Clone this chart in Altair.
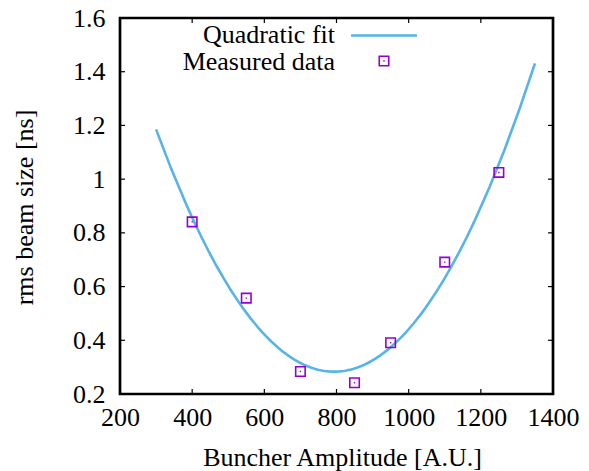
import altair as alt
import pandas as pd

# Data
amplitude = [400, 550, 700, 850, 950, 1100, 1250]
rms_size = [0.841, 0.557, 0.284, 0.242, 0.391, 0.691, 1.025]
fit_extent = [300, 1350]
x_ticks = [200, 400, 600, 800, 1000, 1200, 1400]
y_ticks = [0.2, 0.4, 0.6, 0.8, 1.0, 1.2, 1.4, 1.6]
legend_labels = ["Quadratic fit", "Measured data"]
x_title = "Buncher Amplitude [A.U.]"
y_title = "rms beam size [ns]"

W, H = 433, 376
FONT = "Liberation Serif, Times New Roman, serif"
FS = 26
FIT_COLOR = "#56b4e9"
PT_COLOR = "#9400d3"

df = pd.DataFrame({"amp": amplitude, "rms": rms_size})
xt = pd.DataFrame({"t": x_ticks})
yt = pd.DataFrame({"t": y_ticks})

xscale = alt.Scale(domain=[200, 1400], nice=False, zero=False)
yscale = alt.Scale(domain=[0.2, 1.6], nice=False, zero=False)

xaxis = alt.Axis(values=x_ticks, format="d", ticks=False, domain=False, grid=False,
                 labelFont=FONT, labelFontSize=FS, labelColor="black", labelPadding=10,
                 labelFlush=False, labelOverlap=False,
                 title=x_title, titleFont=FONT, titleFontSize=FS, titleFontWeight="normal",
                 titleColor="black", titleX=222, titleY=71, titleBaseline="alphabetic")
yaxis = alt.Axis(values=y_ticks, format="~g", ticks=False, domain=False, grid=False,
                 labelFont=FONT, labelFontSize=FS, labelColor="black", labelPadding=15,
                 labelFlush=False, labelOverlap=False,
                 title=y_title, titleFont=FONT, titleFontSize=FS, titleFontWeight="normal",
                 titleColor="black", titleX=-96, titleY=189, titleAngle=-90,
                 titleAlign="center", titleBaseline="middle")

base = alt.Chart(df)

fit = base.transform_regression(
    "amp", "rms", method="poly", order=2, extent=fit_extent
).mark_line(color=FIT_COLOR, strokeWidth=2.6, clip=True).encode(
    x=alt.X("amp:Q", scale=xscale, axis=xaxis),
    y=alt.Y("rms:Q", scale=yscale, axis=yaxis),
)

pts = base.mark_point(shape="square", filled=False, color=PT_COLOR, size=90,
                      strokeWidth=1.6, opacity=1).encode(
    x=alt.X("amp:Q", scale=xscale), y=alt.Y("rms:Q", scale=yscale))
dots = base.mark_point(shape="square", filled=True, color=PT_COLOR, size=2,
                       opacity=1).encode(
    x=alt.X("amp:Q", scale=xscale), y=alt.Y("rms:Q", scale=yscale))

TL = 5
xt_bot = alt.Chart(xt).mark_rule(color="black", strokeWidth=1.2).encode(
    x=alt.X("t:Q", scale=xscale), y=alt.value(H), y2=alt.value(H - TL))
xt_top = alt.Chart(xt).mark_rule(color="black", strokeWidth=1.2).encode(
    x=alt.X("t:Q", scale=xscale), y=alt.value(0), y2=alt.value(TL))
yt_left = alt.Chart(yt).mark_rule(color="black", strokeWidth=1.2).encode(
    y=alt.Y("t:Q", scale=yscale), x=alt.value(0), x2=alt.value(TL))
yt_right = alt.Chart(yt).mark_rule(color="black", strokeWidth=1.2).encode(
    y=alt.Y("t:Q", scale=yscale), x=alt.value(W), x2=alt.value(W - TL))

one = pd.DataFrame({"k": [0]})
leg1_text = alt.Chart(one).mark_text(align="right", baseline="middle", font=FONT,
                                     fontSize=FS, color="black").encode(
    x=alt.value(215), y=alt.value(17), text=alt.value(legend_labels[0]))
leg1_line = alt.Chart(one).mark_rule(color=FIT_COLOR, strokeWidth=2.6).encode(
    x=alt.value(231), x2=alt.value(297), y=alt.value(17.5))
leg2_text = alt.Chart(one).mark_text(align="right", baseline="middle", font=FONT,
                                     fontSize=FS, color="black").encode(
    x=alt.value(215), y=alt.value(44), text=alt.value(legend_labels[1]))
leg2_pt = alt.Chart(one).mark_point(shape="square", filled=False, color=PT_COLOR,
                                    size=90, strokeWidth=1.6, opacity=1).encode(
    x=alt.value(264), y=alt.value(43))
leg2_dot = alt.Chart(one).mark_point(shape="square", filled=True, color=PT_COLOR,
                                     size=2, opacity=1).encode(
    x=alt.value(264), y=alt.value(43))

chart = alt.layer(
    fit, pts, dots, xt_bot, xt_top, yt_left, yt_right,
    leg1_text, leg1_line, leg2_text, leg2_pt, leg2_dot
).properties(
    width=W, height=H, autosize="none",
    padding={"left": 120, "top": 18, "right": 36, "bottom": 77},
    background="white",
).configure_view(stroke="black", strokeWidth=2.7)

chart.save("out.html", embed_options={"renderer": "svg", "actions": False})
